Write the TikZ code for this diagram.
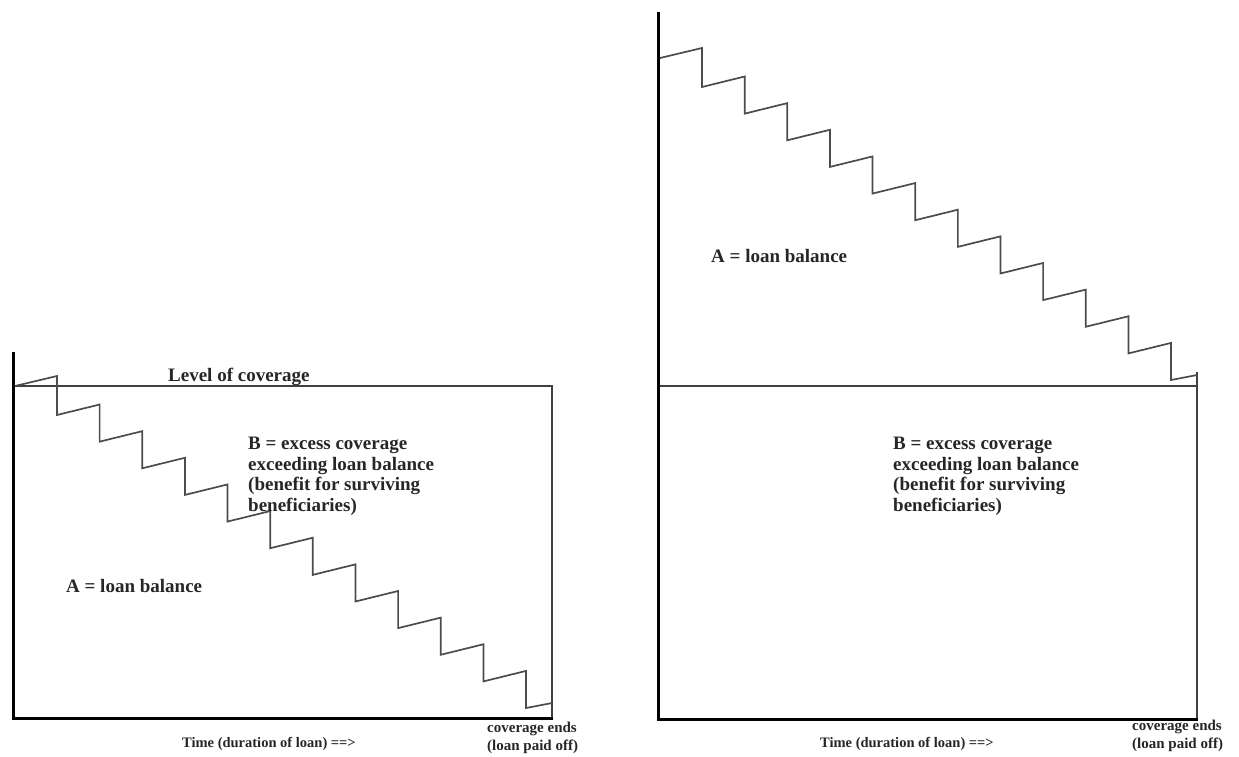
\documentclass[tikz,border=0pt]{standalone}
\usepackage{fontspec}
\setmainfont{Liberation Serif}
\begin{document}
\begin{tikzpicture}[x=1pt,y=-1pt,
  axis/.style={line width=3pt,black},
  cov/.style={line width=1.8pt,black!75},
  stair/.style={line width=1.7pt,black!70,line join=miter},
  lbl/.style={font=\fontsize{19}{20.5}\selectfont\bfseries,inner sep=0pt,align=left,text=black!85},
  sml/.style={font=\fontsize{14.5}{18}\selectfont\bfseries,inner sep=0pt,align=left,text=black!85}]
\useasboundingbox (0,0) rectangle (1239,756);
\newcommand\mystairs{%
  \draw[stair] (15,386) -- (57,376)
    foreach \k in {1,...,11}{ -- ({57+42.64*(\k-1)},{415+26.64*(\k-1)}) -- ({57+42.64*\k},{415+26.64*(\k-1)-10.5}) }
    -- (526,708) -- (552,703);}
% ---------- left chart ----------
\coordinate (LT) at (13,352);
\coordinate (LO) at (13,718);
\coordinate (LE) at (553,718);
\coordinate (LC0) at (13,386);
\coordinate (LC1) at (552,386);
\draw[cov] (LC0) -- (LC1) -- (552,718);
\mystairs
\draw[axis] (LT) -- (LO) -- (LE);
\node[lbl,anchor=base west] (Llev) at (168,381) {Level of coverage};
\node[lbl,anchor=north west] (LB) at (248,437) {B = excess coverage\\exceeding loan balance\\(benefit for surviving\\beneficiaries)};
\node[lbl,anchor=base west] (LA) at (66,592) {A = loan balance};
\node[sml,anchor=base west] (Ltime) at (182,747) {Time (duration of loan) ==>};
\node[sml,anchor=north west,font=\fontsize{15}{18}\selectfont\bfseries] (Lend) at (487,722) {coverage ends\\(loan paid off)};
% ---------- right chart ----------
\coordinate (RT) at (658,12);
\coordinate (RO) at (658,719);
\coordinate (RE) at (1198,719);
\coordinate (RC0) at (658,386);
\coordinate (RC1) at (1197,386);
\draw[cov] (RC0) -- (RC1);
\draw[cov] (1197,372) -- (1197,719);
\begin{scope}[shift={(645,-328)}]
\mystairs
\end{scope}
\draw[axis] (RT) -- (RO) -- (RE);
\node[lbl,anchor=base west] (RA) at (711,262) {A = loan balance};
\node[lbl,anchor=north west] (RB) at (893,437) {B = excess coverage\\exceeding loan balance\\(benefit for surviving\\beneficiaries)};
\node[sml,anchor=base west] (Rtime) at (820,747) {Time (duration of loan) ==>};
\node[sml,anchor=north west,font=\fontsize{15}{18}\selectfont\bfseries] (Rend) at (1132,720) {coverage ends\\(loan paid off)};
\end{tikzpicture}
\end{document}
